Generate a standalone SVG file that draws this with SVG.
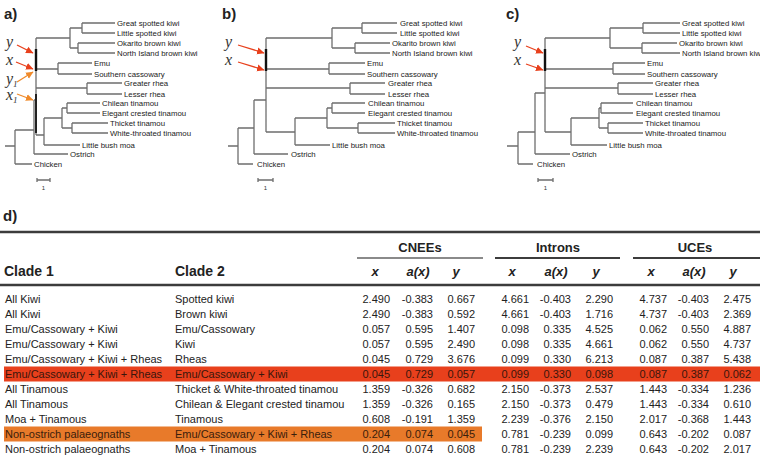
<svg xmlns="http://www.w3.org/2000/svg" width="760" height="458" viewBox="0 0 760 458">
<style>
.br{fill:none;stroke:#6e6e6e;stroke-width:1.3}
.bold{fill:none;stroke:#111;stroke-width:2.4}
.lf{font-family:"Liberation Sans",Arial,sans-serif;font-size:7.8px;fill:#222}
.pl{font-family:"Liberation Sans",Arial,sans-serif;font-size:15px;font-weight:bold;fill:#222}
.var{font-family:"Liberation Serif","Times New Roman",serif;font-style:italic;font-size:16px;fill:#333}
.sub{font-family:"Liberation Serif","Times New Roman",serif;font-style:italic;font-size:9px;fill:#333}
.sc{font-family:"Liberation Sans",Arial,sans-serif;font-size:6px;fill:#333}
.ar{stroke:#e8401c;stroke-width:1.3;fill:none}
.ao{stroke:#f08a2a;stroke-width:1.3;fill:none}
.t{font-family:"Liberation Sans",Arial,sans-serif;font-size:11px;fill:#222}
.n{font-family:"Liberation Sans",Arial,sans-serif;font-size:11px;fill:#222;text-anchor:end}
.h{font-family:"Liberation Sans",Arial,sans-serif;font-size:14px;font-weight:bold;fill:#222}
.g{font-family:"Liberation Sans",Arial,sans-serif;font-size:13px;font-weight:bold;fill:#222;text-anchor:middle}
.hv{font-family:"Liberation Sans",Arial,sans-serif;font-size:13px;font-weight:bold;font-style:italic;fill:#222;text-anchor:middle}
.rule{stroke:#3c3c3c;stroke-width:2.6}
</style>
<defs>
<marker id="mr" markerUnits="userSpaceOnUse" markerWidth="8" markerHeight="8" refX="7" refY="4" orient="auto"><path d="M0,0.5 L7.5,4 L0,7.5 Z" fill="#e8401c"/></marker>
<marker id="mo" markerUnits="userSpaceOnUse" markerWidth="8" markerHeight="8" refX="7" refY="4" orient="auto"><path d="M0,0.5 L7.5,4 L0,7.5 Z" fill="#f08a2a"/></marker>
</defs>
<rect width="760" height="458" fill="#fff"/>

<!-- Tree a -->
<g id="tree-a">
<text class="pl" x="4" y="19">a)</text>
<g id="a-connectors">
<path class="br" d="M5 146H15M15 130V164M15 164H32M15 130H34M34 100V154M34 154H68M34 100H36M36 38V135
M36 38H70M70 28V48M70 28H82M82 23V33M82 23H115M82 33H115M70 48H78M78 43V53M78 43H115M78 53H115
M36 69H58M58 63V74M58 63H92M58 74H92
M36 88H87M87 83V94M87 83H122M87 94H122
M36 135H44M44 118V145M44 145H80M44 118H62M62 108V128
M62 108H67M67 103V113M67 103H100M67 113H100
M62 128H72M72 123V133M72 123H108M72 133H108"/>
<path class="bold" d="M36 49V71"/>
<path fill="none" stroke="#222" stroke-width="2" d="M36 94V133"/>
<path class="br" d="M37 180H50M37 178V182M50 178V182"/>
<path class="ar" d="M17 45L33 53" marker-end="url(#mr)"/>
<path class="ar" d="M16 62L33 69" marker-end="url(#mr)"/>
<path class="ao" d="M17 82L33 72" marker-end="url(#mo)"/>
<path class="ao" d="M17 94L33 100" marker-end="url(#mo)"/>
</g>
<text class="sc" x="43.5" y="190" text-anchor="middle">1</text>
<text class="var" x="6" y="47">y</text>
<text class="var" x="6" y="65">x</text>
<text class="var" x="6" y="84">y<tspan class="sub" dy="3">1</tspan></text>
<text class="var" x="6" y="100">x<tspan class="sub" dy="3">1</tspan></text>
<g id="a-leaf-gs"><text class="lf" x="117" y="25.7">Great spotted kiwi</text></g>
<g id="a-leaf-ls"><text class="lf" x="117" y="35.7">Little spotted kiwi</text></g>
<g id="a-leaf-ok"><text class="lf" x="117" y="45.7">Okarito brown kiwi</text></g>
<g id="a-leaf-ni"><text class="lf" x="117" y="55.7">North Island brown kiwi</text></g>
<g id="a-leaf-emu"><text class="lf" x="94" y="65.7">Emu</text></g>
<g id="a-leaf-sc"><text class="lf" x="94" y="76.7">Southern cassowary</text></g>
<g id="a-leaf-gr"><text class="lf" x="124" y="85.7">Greater rhea</text></g>
<g id="a-leaf-lr"><text class="lf" x="124" y="96.7">Lesser rhea</text></g>
<g id="a-leaf-ct"><text class="lf" x="102" y="105.7">Chilean tinamou</text></g>
<g id="a-leaf-ec"><text class="lf" x="102" y="115.7">Elegant crested tinamou</text></g>
<g id="a-leaf-tt"><text class="lf" x="110" y="125.7">Thicket tinamou</text></g>
<g id="a-leaf-wt"><text class="lf" x="110" y="135.7">White-throated tinamou</text></g>
<g id="a-leaf-lbm"><text class="lf" x="82" y="147.7">Little bush moa</text></g>
<g id="a-leaf-os"><text class="lf" x="70" y="156.7">Ostrich</text></g>
<g id="a-leaf-ch"><text class="lf" x="34" y="166.7">Chicken</text></g>
</g>

<!-- Tree b -->
<g id="tree-b">
<text class="pl" x="222" y="19">b)</text>
<g id="b-connectors">
<path class="br" d="M228 146H238M238 128V164M238 164H253M238 128H254M254 100V154M254 154H288M254 100H266M266 38V132
M266 38H332M332 28V48M332 28H362M362 23V33M362 23H397M362 33H397M332 48H355M355 43V53M355 43H390M355 53H390
M266 69H329M329 63V74M329 63H365M329 74H365
M266 88H350M350 83V94M350 83H385M350 94H385
M266 132H295M295 118V145M295 145H330M295 118H327M327 108V128
M327 108H332M332 103V113M332 103H365M332 113H365
M327 128H358M358 123V133M358 123H395M358 133H395"/>
<path class="bold" d="M266 49V71"/>
<path class="br" d="M258 180H273M258 178V182M273 178V182"/>
<path class="ar" d="M238 45L264 53" marker-end="url(#mr)"/>
<path class="ar" d="M238 62L264 70" marker-end="url(#mr)"/>
</g>
<text class="sc" x="265.5" y="190" text-anchor="middle">1</text>
<text class="var" x="225" y="47">y</text>
<text class="var" x="225" y="65">x</text>
<g id="b-leaf-gs"><text class="lf" x="400" y="25.7">Great spotted kiwi</text></g>
<g id="b-leaf-ls"><text class="lf" x="400" y="35.7">Little spotted kiwi</text></g>
<g id="b-leaf-ok"><text class="lf" x="392" y="45.7">Okarito brown kiwi</text></g>
<g id="b-leaf-ni"><text class="lf" x="392" y="55.7">North Island brown kiwi</text></g>
<g id="b-leaf-emu"><text class="lf" x="367" y="65.7">Emu</text></g>
<g id="b-leaf-sc"><text class="lf" x="367" y="76.7">Southern cassowary</text></g>
<g id="b-leaf-gr"><text class="lf" x="388" y="85.7">Greater rhea</text></g>
<g id="b-leaf-lr"><text class="lf" x="388" y="96.7">Lesser rhea</text></g>
<g id="b-leaf-ct"><text class="lf" x="368" y="105.7">Chilean tinamou</text></g>
<g id="b-leaf-ec"><text class="lf" x="368" y="115.7">Elegant crested tinamou</text></g>
<g id="b-leaf-tt"><text class="lf" x="397" y="125.7">Thicket tinamou</text></g>
<g id="b-leaf-wt"><text class="lf" x="397" y="135.7">White-throated tinamou</text></g>
<g id="b-leaf-lbm"><text class="lf" x="332" y="147.7">Little bush moa</text></g>
<g id="b-leaf-os"><text class="lf" x="291" y="156.7">Ostrich</text></g>
<g id="b-leaf-ch"><text class="lf" x="257" y="166.7">Chicken</text></g>
</g>

<!-- Tree c -->
<g id="tree-c">
<text class="pl" x="506" y="19">c)</text>
<g id="c-connectors">
<path class="br" d="M507 146H518M518 132V164M518 164H533M518 132H535M535 93V154M535 154H570M535 93H545M545 38V132
M545 38H610M610 28V48M610 28H643M643 23V33M643 23H680M643 33H680M610 48H642M642 43V53M642 43H677M642 53H680
M545 69H613M613 63V74M613 63H645M613 74H645
M545 88H618M618 83V94M618 83H653M618 94H653
M545 132H571M571 118V145M571 145H607M571 118H599M599 108V128
M599 108H601M601 103V113M601 103H633M601 113H633
M599 128H608M608 123V133M608 123H643M608 133H643"/>
<path class="bold" d="M545 49V71"/>
<path class="br" d="M538 180H553M538 178V182M553 178V182"/>
<path class="ar" d="M526 46L543 53" marker-end="url(#mr)"/>
<path class="ar" d="M526 64L543 70" marker-end="url(#mr)"/>
</g>
<text class="sc" x="545.5" y="190" text-anchor="middle">1</text>
<text class="var" x="514" y="47">y</text>
<text class="var" x="514" y="65">x</text>
<g id="c-leaf-gs"><text class="lf" x="682" y="25.7">Great spotted kiwi</text></g>
<g id="c-leaf-ls"><text class="lf" x="682" y="35.7">Little spotted kiwi</text></g>
<g id="c-leaf-ok"><text class="lf" x="679" y="45.7">Okarito brown kiwi</text></g>
<g id="c-leaf-ni"><text class="lf" x="682" y="55.7">North Island brown kiwi</text></g>
<g id="c-leaf-emu"><text class="lf" x="647" y="65.7">Emu</text></g>
<g id="c-leaf-sc"><text class="lf" x="647" y="76.7">Southern cassowary</text></g>
<g id="c-leaf-gr"><text class="lf" x="655" y="85.7">Greater rhea</text></g>
<g id="c-leaf-lr"><text class="lf" x="655" y="96.7">Lesser rhea</text></g>
<g id="c-leaf-ct"><text class="lf" x="636" y="105.7">Chilean tinamou</text></g>
<g id="c-leaf-ec"><text class="lf" x="636" y="115.7">Elegant crested tinamou</text></g>
<g id="c-leaf-tt"><text class="lf" x="645" y="125.7">Thicket tinamou</text></g>
<g id="c-leaf-wt"><text class="lf" x="645" y="135.7">White-throated tinamou</text></g>
<g id="c-leaf-lbm"><text class="lf" x="609" y="147.7">Little bush moa</text></g>
<g id="c-leaf-os"><text class="lf" x="572" y="156.7">Ostrich</text></g>
<g id="c-leaf-ch"><text class="lf" x="537" y="166.7">Chicken</text></g>
</g>

<!-- Table d -->
<g id="table-d">
<text class="pl" x="3" y="221">d)</text>
<rect x="4" y="366.5" width="756" height="15" fill="#e8401c"/>
<rect x="4" y="426.5" width="478" height="15" fill="#e87a2a"/>
<line class="rule" x1="0" y1="232" x2="760" y2="232"/>
<line class="rule" x1="0" y1="285" x2="760" y2="285"/>
<line x1="357" y1="258" x2="483" y2="258" stroke="#8a8a8a" stroke-width="2"/>
<line x1="495" y1="258" x2="620" y2="258" stroke="#3c3c3c" stroke-width="2"/>
<line x1="633" y1="258" x2="760" y2="258" stroke="#3c3c3c" stroke-width="2"/>
<text class="g" x="420" y="252">CNEEs</text>
<text class="g" x="558" y="252">Introns</text>
<text class="g" x="695" y="252">UCEs</text>
<text class="h" x="4" y="276">Clade 1</text>
<text class="h" x="175" y="276">Clade 2</text>
<text class="hv" x="375" y="276">x</text>
<text class="hv" x="418" y="276">a(x)</text>
<text class="hv" x="456" y="276">y</text>
<text class="hv" x="512" y="276">x</text>
<text class="hv" x="556" y="276">a(x)</text>
<text class="hv" x="596" y="276">y</text>
<text class="hv" x="651" y="276">x</text>
<text class="hv" x="694" y="276">a(x)</text>
<text class="hv" x="733" y="276">y</text>

<g class="t">
<text x="5" y="303">All Kiwi</text><text x="175" y="303">Spotted kiwi</text>
<text x="5" y="318">All Kiwi</text><text x="175" y="318">Brown kiwi</text>
<text x="5" y="333">Emu/Cassowary + Kiwi</text><text x="175" y="333">Emu/Cassowary</text>
<text x="5" y="348">Emu/Cassowary + Kiwi</text><text x="175" y="348">Kiwi</text>
<text x="5" y="363">Emu/Cassowary + Kiwi + Rheas</text><text x="175" y="363">Rheas</text>
<text x="5" y="378" fill="#3a160c">Emu/Cassowary + Kiwi + Rheas</text><text x="175" y="378" fill="#3a160c">Emu/Cassowary + Kiwi</text>
<text x="5" y="393">All Tinamous</text><text x="175" y="393">Thicket &amp; White-throated tinamou</text>
<text x="5" y="408">All Tinamous</text><text x="175" y="408">Chilean &amp; Elegant crested tinamou</text>
<text x="5" y="423">Moa + Tinamous</text><text x="175" y="423">Tinamous</text>
<text x="5" y="438" fill="#3a200c">Non-ostrich palaeognaths</text><text x="175" y="438" fill="#3a200c">Emu/Cassowary + Kiwi + Rheas</text>
<text x="5" y="453">Non-ostrich palaeognaths</text><text x="175" y="453">Moa + Tinamous</text>
</g>

<g class="n">
<text x="390" y="303">2.490</text><text x="433" y="303">-0.383</text><text x="475" y="303">0.667</text><text x="529" y="303">4.661</text><text x="571" y="303">-0.403</text><text x="613" y="303">2.290</text><text x="667" y="303">4.737</text><text x="709" y="303">-0.403</text><text x="751" y="303">2.475</text>
<text x="390" y="318">2.490</text><text x="433" y="318">-0.383</text><text x="475" y="318">0.592</text><text x="529" y="318">4.661</text><text x="571" y="318">-0.403</text><text x="613" y="318">1.716</text><text x="667" y="318">4.737</text><text x="709" y="318">-0.403</text><text x="751" y="318">2.369</text>
<text x="390" y="333">0.057</text><text x="433" y="333">0.595</text><text x="475" y="333">1.407</text><text x="529" y="333">0.098</text><text x="571" y="333">0.335</text><text x="613" y="333">4.525</text><text x="667" y="333">0.062</text><text x="709" y="333">0.550</text><text x="751" y="333">4.887</text>
<text x="390" y="348">0.057</text><text x="433" y="348">0.595</text><text x="475" y="348">2.490</text><text x="529" y="348">0.098</text><text x="571" y="348">0.335</text><text x="613" y="348">4.661</text><text x="667" y="348">0.062</text><text x="709" y="348">0.550</text><text x="751" y="348">4.737</text>
<text x="390" y="363">0.045</text><text x="433" y="363">0.729</text><text x="475" y="363">3.676</text><text x="529" y="363">0.099</text><text x="571" y="363">0.330</text><text x="613" y="363">6.213</text><text x="667" y="363">0.087</text><text x="709" y="363">0.387</text><text x="751" y="363">5.438</text>
<g fill="#3a160c"><text x="390" y="378">0.045</text><text x="433" y="378">0.729</text><text x="475" y="378">0.057</text><text x="529" y="378">0.099</text><text x="571" y="378">0.330</text><text x="613" y="378">0.098</text><text x="667" y="378">0.087</text><text x="709" y="378">0.387</text><text x="751" y="378">0.062</text></g>
<text x="390" y="393">1.359</text><text x="433" y="393">-0.326</text><text x="475" y="393">0.682</text><text x="529" y="393">2.150</text><text x="571" y="393">-0.373</text><text x="613" y="393">2.537</text><text x="667" y="393">1.443</text><text x="709" y="393">-0.334</text><text x="751" y="393">1.236</text>
<text x="390" y="408">1.359</text><text x="433" y="408">-0.326</text><text x="475" y="408">0.165</text><text x="529" y="408">2.150</text><text x="571" y="408">-0.373</text><text x="613" y="408">0.479</text><text x="667" y="408">1.443</text><text x="709" y="408">-0.334</text><text x="751" y="408">0.610</text>
<text x="390" y="423">0.608</text><text x="433" y="423">-0.191</text><text x="475" y="423">1.359</text><text x="529" y="423">2.239</text><text x="571" y="423">-0.376</text><text x="613" y="423">2.150</text><text x="667" y="423">2.017</text><text x="709" y="423">-0.368</text><text x="751" y="423">1.443</text>
<g fill="#3a200c"><text x="390" y="438">0.204</text><text x="433" y="438">0.074</text><text x="475" y="438">0.045</text></g><text x="529" y="438">0.781</text><text x="571" y="438">-0.239</text><text x="613" y="438">0.099</text><text x="667" y="438">0.643</text><text x="709" y="438">-0.202</text><text x="751" y="438">0.087</text>
<text x="390" y="453">0.204</text><text x="433" y="453">0.074</text><text x="475" y="453">0.608</text><text x="529" y="453">0.781</text><text x="571" y="453">-0.239</text><text x="613" y="453">2.239</text><text x="667" y="453">0.643</text><text x="709" y="453">-0.202</text><text x="751" y="453">2.017</text>
</g>
</g>
</svg>
